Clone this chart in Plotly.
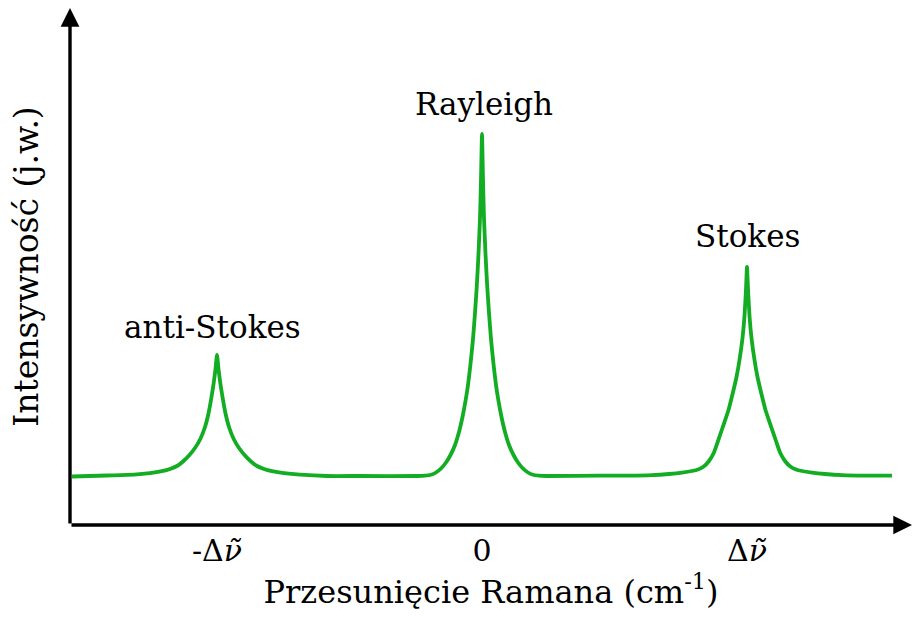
import plotly.graph_objects as go

# Raman shift (arbitrary units, Stokes shift = 265) and intensity (arbitrary units)
shift = [-410, -375, -348, -332, -320, -312, -305, -299, -293, -287, -281.7, -277,
         -273.4, -270.5, -268.3, -266.5, -265,
         -263.5, -261.7, -259.5, -256.6, -253, -248.3, -243, -237, -231, -225, -218,
         -210, -198, -182, -155, -122,
         -65, -57, -51, -46, -41, -36, -31.5, -27, -23, -19.5, -16.5, -14, -11.5, -9,
         -7, -5.2, -3.5, -2, -1, 0,
         1, 2, 3.5, 5.2, 7, 9, 11.5, 14, 16.5, 19.5, 23, 27, 31.5, 36, 41, 46, 51,
         57, 65,
         118, 145, 170, 187, 200, 210, 216, 221.7, 227, 231.7, 236, 240.8, 246.5,
         250.8, 254.5, 257.5, 260.5, 262.5, 264, 265,
         266, 267.5, 269.5, 272.5, 275.5, 279.2, 283.5, 289.2, 294, 298.3, 303, 308.3,
         314, 320, 330, 343, 360, 385, 410]
intensity = [48.5, 49.5, 50.3, 51.8, 53.8, 56, 59, 63.5, 69.5, 77, 86, 98,
             112, 128, 142, 156, 170,
             156, 142, 128, 112, 98, 86, 77, 69.5, 63.5, 59, 56,
             53.8, 51.8, 50.3, 49, 49,
             49, 49.3, 50.2, 52.5, 56.5, 62.5, 70, 80, 93, 108, 124, 140, 161, 186,
             212, 239, 271, 307, 345, 391,
             345, 307, 271, 239, 212, 186, 161, 140, 124, 108, 93, 80, 70, 62.5, 56.5, 52.5, 50.2,
             49.3, 49,
             49.3, 49.3, 49.8, 51, 52.4, 54, 55.5, 58.5, 64, 72, 84, 98, 115,
             132, 148, 165, 187, 209, 236, 258,
             236, 209, 187, 165, 148, 132, 115, 98, 84, 72, 64, 58.5,
             55.5, 54, 52.4, 51, 49.8, 49.3, 49.3]

tick_vals = [-265, 0, 265]
tick_text = ["-Δ<i>ν̃</i>", "0", "Δ<i>ν̃</i>"]

peak_labels = ["anti-Stokes", "Rayleigh", "Stokes"]
peak_label_x = [-270, 2, 265]
peak_label_y = [198, 421, 289]

x_min, x_max = -412, 430
y_min, y_max = 0, 517

FONT = "DejaVu Serif"
GREEN = "#12AD22"

fig = go.Figure()
fig.add_trace(go.Scatter(x=shift, y=intensity, mode="lines",
                         line=dict(color=GREEN, width=3.8, shape="spline", smoothing=0.5),
                         hoverinfo="skip", showlegend=False))

annotations = []
for t, x, y in zip(peak_labels, peak_label_x, peak_label_y):
    annotations.append(dict(x=x, y=y, xref="x", yref="y", text=t, showarrow=False,
                            font=dict(family=FONT, size=31, color="black"),
                            xanchor="center", yanchor="middle"))
# axis arrows
annotations.append(dict(x=x_max, y=0, ax=x_min, ay=0, xref="x", yref="y", axref="x", ayref="y",
                        text="", showarrow=True, arrowhead=2, arrowsize=1.1, arrowwidth=3.4,
                        arrowcolor="black"))
annotations.append(dict(x=x_min, y=y_max, ax=x_min, ay=0, xref="x", yref="y", axref="x", ayref="y",
                        text="", showarrow=True, arrowhead=2, arrowsize=1.1, arrowwidth=3.4,
                        arrowcolor="black"))

fig.update_layout(
    width=913, height=625,
    margin=dict(l=70, r=1, t=8, b=100),
    paper_bgcolor="white", plot_bgcolor="white",
    font=dict(family=FONT, size=31, color="black"),
    annotations=annotations,
    xaxis=dict(range=[x_min, x_max], showgrid=False, zeroline=False, showline=False,
               tickmode="array", tickvals=tick_vals, ticktext=tick_text, ticks="",
               ticklabelstandoff=5,
               tickfont=dict(family=FONT, size=30, color="black"),
               title=dict(text="Przesunięcie Ramana (cm<sup>-1</sup>)",
                          font=dict(family=FONT, size=32, color="black"), standoff=13),
               automargin=False, fixedrange=True),
    yaxis=dict(range=[y_min, y_max], showgrid=False, zeroline=False, showline=False,
               showticklabels=False, ticks="",
               title=dict(text="Intensywność (j.w.)",
                          font=dict(family=FONT, size=33, color="black"), standoff=20),
               automargin=False, fixedrange=True),
)

fig.write_html("out.html")
